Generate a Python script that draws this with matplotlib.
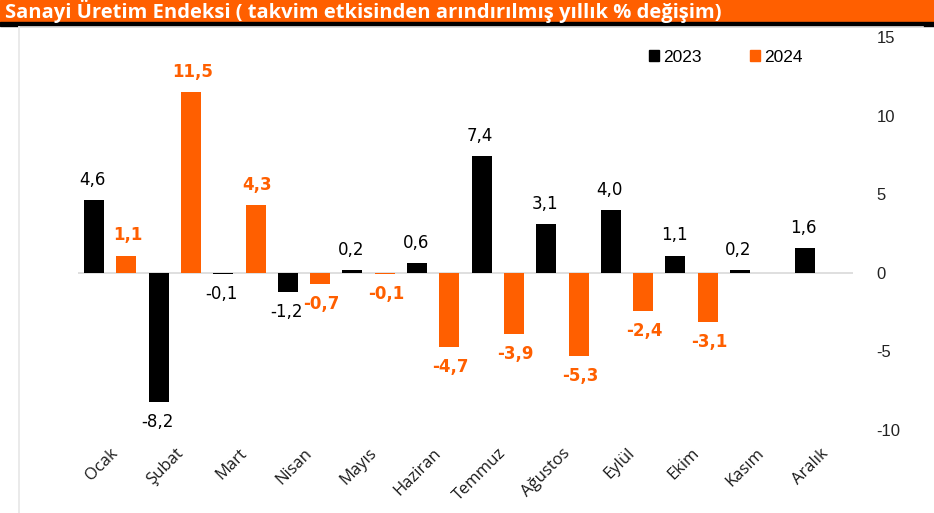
import numpy as np
import matplotlib.pyplot as plt
from matplotlib.lines import Line2D

months = ["Ocak", "Şubat", "Mart", "Nisan", "Mayıs", "Haziran", "Temmuz",
          "Ağustos", "Eylül", "Ekim", "Kasım", "Aralık"]
vals_2023 = [4.6, -8.2, -0.1, -1.2, 0.2, 0.6, 7.4, 3.1, 4.0, 1.1, 0.2, 1.6]
vals_2024 = [1.1, 11.5, 4.3, -0.7, -0.1, -4.7, -3.9, -5.3, -2.4, -3.1, None, None]
yticks = [-10, -5, 0, 5, 10, 15]

ORANGE = "#FF5F00"
title = "Sanayi Üretim Endeksi ( takvim etkisinden arındırılmış yıllık % değişim)"

fig = plt.figure(figsize=(9.34, 5.13), dpi=100)

# title band
fig.patches.append(plt.Rectangle((0, 1 - 22 / 513), 1, 22 / 513, transform=fig.transFigure,
                                 color=ORANGE, zorder=0))
fig.patches.append(plt.Rectangle((0, 1 - 26 / 513), 1, 4 / 513, transform=fig.transFigure,
                                 color="black", zorder=0))
fig.text(5 / 934, 1 - 11 / 513, title, color="white", fontsize=14.5, fontweight="bold",
         family="Open Sans", va="center", ha="left")

# light frame of chart area
fig.add_artist(Line2D([19 / 934, 19 / 934], [0, 1 - 27 / 513], transform=fig.transFigure,
                      color="#e6e6e6", lw=1.2))
fig.add_artist(Line2D([19 / 934, 923 / 934], [1 - 27 / 513, 1 - 27 / 513],
                      transform=fig.transFigure, color="#e6e6e6", lw=1.2))

ax = fig.add_axes([78 / 934, 1 - 430 / 513, (853 - 78) / 934, (430 - 37) / 513])
x = np.arange(len(months))
w = 0.31
off = 0.25

v23 = np.array(vals_2023, dtype=float)
v24 = np.array([np.nan if v is None else v for v in vals_2024], dtype=float)

ax.bar(x - off, v23, w, color="black", zorder=3)
ax.bar(x + off, v24, w, color=ORANGE, zorder=3)
ax.axhline(0, color="#d9d9d9", lw=1.2, zorder=2)

def fmt(v):
    return f"{v:.1f}".replace(".", ",")

for xi, v in zip(x, v23):
    ax.annotate(fmt(v), (xi - off, v), xytext=(-1, 8 if v >= 0 else -8),
                textcoords="offset points", ha="center",
                va="bottom" if v >= 0 else "top", fontsize=12, color="black")
for xi, v in zip(x, v24):
    if np.isnan(v):
        continue
    ax.annotate(fmt(v), (xi + off, v), xytext=(1, 8 if v >= 0 else -8),
                textcoords="offset points", ha="center",
                va="bottom" if v >= 0 else "top", fontsize=12, color=ORANGE,
                fontweight="bold")

ax.set_xlim(-0.5, 11.5)
ax.set_ylim(-10, 15)
ax.set_yticks(yticks)
ax.yaxis.tick_right()
ax.tick_params(axis="y", length=0, pad=17, labelsize=12, labelcolor="#222222")
ax.set_yticklabels([str(t) for t in yticks], family="Liberation Sans")
ax.set_xticks(x)
ax.set_xticklabels(months, rotation=45, ha="right", rotation_mode="anchor",
                   fontsize=12, color="#1a1a1a", family="Open Sans")
ax.tick_params(axis="x", length=0, pad=11)
for s in ax.spines.values():
    s.set_visible(False)
for lbl in ax.get_yticklabels():
    lbl.set_clip_on(False)

handles = [plt.Rectangle((0, 0), 1, 1, color="black"),
           plt.Rectangle((0, 0), 1, 1, color=ORANGE)]
fig.legend(handles, ["2023", "2024"], loc="center", bbox_to_anchor=(726 / 934, 1 - 57 / 513),
           ncol=2, frameon=False, handlelength=0.55, handleheight=0.55, handletextpad=0.25,
           columnspacing=2.8, prop={"family": "Liberation Sans", "size": 12.5})

fig.savefig("out.png", dpi=100)
